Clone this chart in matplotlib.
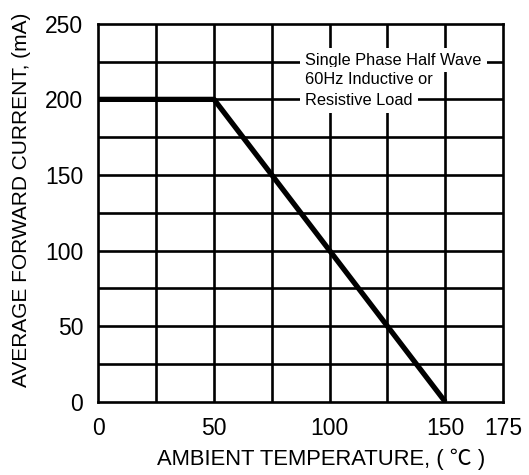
import matplotlib
matplotlib.use("Agg")
import matplotlib.pyplot as plt
import numpy as np

# derating curve: ambient temperature (C) vs average forward current (mA)
temps = [0, 50, 150]
currents = [200, 200, 0]

x_ticks = [0, 50, 100, 150, 175]
y_ticks = [0, 50, 100, 150, 200, 250]
grid_step = 25

note_lines = ["Single Phase Half Wave", "60Hz Inductive or", "Resistive Load"]
note_y = [226, 213, 199]
note_x = 89.5

plt.rcParams['font.family'] = ['Liberation Sans', 'Noto Sans CJK SC', 'DejaVu Sans']

fig = plt.figure(figsize=(5.29, 4.75), dpi=100)
ax = fig.add_axes([0.186, 0.154, 0.765, 0.796])

ax.set_xlim(0, 175)
ax.set_ylim(0, 250)

# grid every 25 units
for gx in np.arange(grid_step, 175, grid_step):
    ax.axvline(gx, color="black", lw=1.9, zorder=1)
for gy in np.arange(grid_step, 250, grid_step):
    ax.axhline(gy, color="black", lw=1.9, zorder=1)

for s in ax.spines.values():
    s.set_linewidth(1.9)

ax.plot(temps, currents, color="black", lw=3.8, solid_capstyle="butt", zorder=4)

for txt, ty in zip(note_lines, note_y):
    ax.text(note_x, ty, txt, fontsize=11.8, va="center", ha="left", zorder=3,
            bbox=dict(boxstyle="square,pad=0.3", fc="white", ec="none"))

ax.set_xticks(x_ticks)
ax.set_yticks(y_ticks)
ax.tick_params(axis="x", length=0, labelsize=16.5, pad=11)
ax.tick_params(axis="y", length=0, labelsize=16.5, pad=11)

xl = ax.set_xlabel("AMBIENT TEMPERATURE, ( \u2103 )", fontsize=15.8, va="center")
ax.xaxis.set_label_coords(0.55, -0.151)
yl = ax.set_ylabel("AVERAGE FORWARD CURRENT, (mA)", fontsize=15, va="center")
ax.yaxis.set_label_coords(-0.191, 0.534)

fig.savefig("out.png", dpi=100)
